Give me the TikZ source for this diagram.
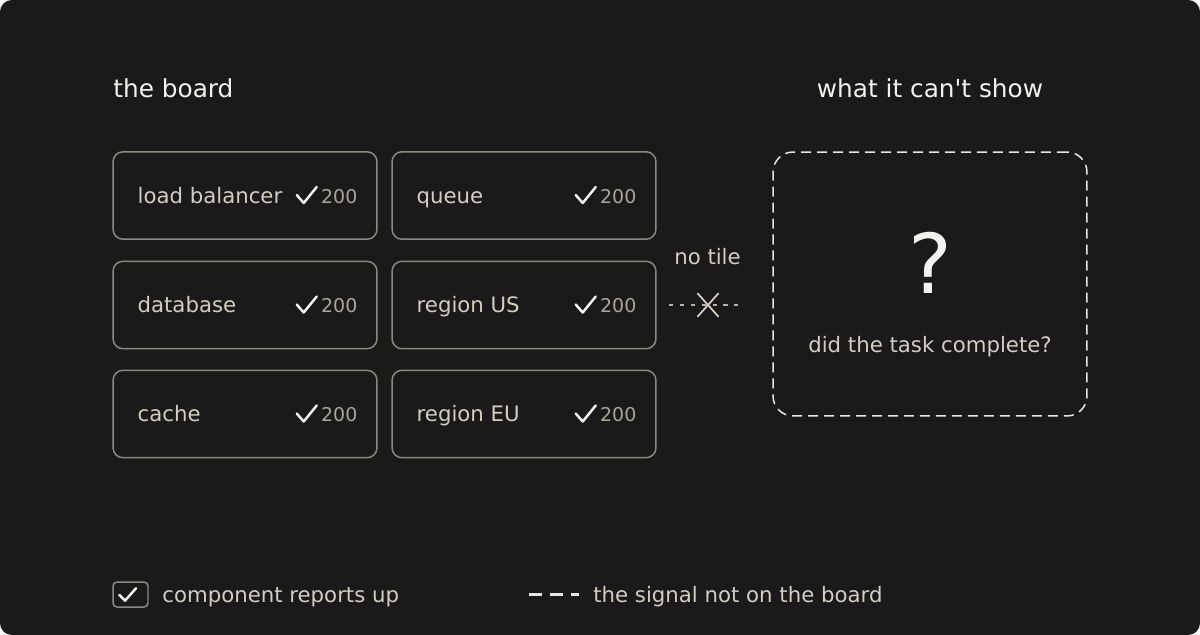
\documentclass[tikz,border=0pt]{standalone}
\usepackage{fontspec}
\setmainfont{DejaVu Sans}
\usetikzlibrary{positioning}

\definecolor{bg}{HTML}{1A1A1A}
\definecolor{titlecol}{HTML}{F2F2F0}
\definecolor{labelcol}{HTML}{D2CEC4}
\definecolor{mutedcol}{HTML}{A8A59C}
\definecolor{tileline}{HTML}{8C8982}
\definecolor{tickcol}{HTML}{F5F5F5}
\definecolor{ghostcol}{HTML}{E6E6E6}

\tikzset{
    tile/.style={draw=tileline, line width=0.85pt, rounded corners=5.7pt,
        minimum width=5.28cm, minimum height=1.75cm, inner sep=0pt},
    tilelabel/.style={anchor=base west, inner sep=0pt, text=labelcol,
        font=\fontsize{12.1}{14}\selectfont},
    code/.style={anchor=base east, inner sep=0pt, text=mutedcol,
        font=\fontsize{10.8}{13}\selectfont},
    tick/.style={draw=tickcol, line width=1.4pt, line cap=round, line join=round},
    title/.style={anchor=base, inner sep=0pt, text=titlecol,
        font=\fontsize{14.1}{17}\selectfont},
}

\begin{document}
\begin{tikzpicture}[x=0.02cm, y=-0.02cm]
    \useasboundingbox (0,0) rectangle (1200,635);
    \fill[bg, rounded corners=6.8pt] (0,0) rectangle (1200,635);

    \node[title, anchor=base west] (boardtitle) at (113,98) {the board};
    \node[title] (ghosttitle) at (930,98) {what it can\textquotesingle t show};

    % the six tiles
    \foreach \name/\lab/\x/\y in {lb/load balancer/245/195.5, queue/queue/524/195.5,
        db/database/245/305, us/region US/524/305,
        cache/cache/245/414, eu/region EU/524/414} {
        \node[tile] (\name) at (\x,\y) {};
        \node[tilelabel] (\name-lab) at ([shift={(25,7.8)}]\name.west) {\lab};
        \node[code] (\name-code) at ([shift={(-20,7.8)}]\name.east) {200};
        \draw[tick] ([shift={(-81,-0.5)}]\name.east) -- ([shift={(-74,7.5)}]\name.east)
            -- ([shift={(-61,-8.5)}]\name.east);
    }

    % the missing tile
    \node[anchor=base, inner sep=0pt, text=labelcol, font=\fontsize{12.1}{14}\selectfont]
        (notile) at (707.5,264) {no tile};
    \coordinate (gapstart) at (669,304.7);
    \coordinate (gapend) at (738,304.7);
    \draw[draw=labelcol!85!bg, line width=1pt, dash pattern=on 2.5pt off 3.7pt]
        (gapstart) -- (gapend);
    \coordinate (cross) at (708,305);
    \draw[draw=labelcol, line width=1pt, line cap=round]
        ([shift={(-10.3,-11.5)}]cross) -- ([shift={(10.3,11.5)}]cross)
        ([shift={(-10.3,11.5)}]cross) -- ([shift={(10.3,-11.5)}]cross);

    \node[draw=ghostcol, line width=0.85pt, rounded corners=11.4pt,
        dash pattern=on 5.7pt off 3.4pt, minimum width=6.28cm, minimum height=5.28cm]
        (ghost) at (930,284) {};
    \node[anchor=base, inner sep=0pt, text=titlecol, font=\fontsize{47}{50}\selectfont]
        (question) at (930,293) {?};
    \node[anchor=base, inner sep=0pt, text=labelcol, font=\fontsize{12.1}{14}\selectfont]
        (asktask) at (930,352.5) {did the task complete?};

    % legend
    \node[draw=tileline, line width=0.85pt, rounded corners=2.3pt,
        minimum width=0.7cm, minimum height=0.5cm, inner sep=0pt] (keybox) at (130.5,594.5) {};
    \draw[tick] ([shift={(-11.2,0.5)}]keybox.center) -- ([shift={(-5.5,6.2)}]keybox.center)
        -- ([shift={(5.5,-6.2)}]keybox.center);
    \node[tilelabel] (keyup) at (162,602.5) {component reports up};
    \coordinate (keyA) at (529,594.5);
    \coordinate (keyB) at (578.5,594.5);
    \draw[draw=ghostcol, line width=1.2pt, dash pattern=on 7.4pt off 4.55pt] (keyA) -- (keyB);
    \node[tilelabel] (keysignal) at (593,602.5) {the signal not on the board};
\end{tikzpicture}
\end{document}
